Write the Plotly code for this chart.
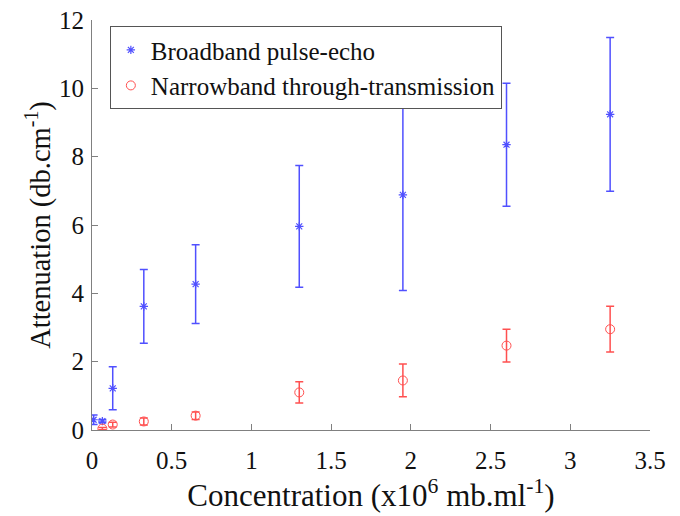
import plotly.graph_objects as go

# Broadband pulse-echo
bb_x = [0.01, 0.065, 0.13, 0.325, 0.65, 1.3, 1.95, 2.6, 3.25]
bb_y = [0.30, 0.26, 1.22, 3.62, 4.27, 5.96, 6.88, 8.35, 9.24]
bb_err = [0.14, 0.05, 0.63, 1.08, 1.15, 1.78, 2.80, 1.80, 2.25]

# Narrowband through-transmission
nb_x = [0.065, 0.13, 0.325, 0.65, 1.3, 1.95, 2.6, 3.25]
nb_y = [0.04, 0.16, 0.25, 0.42, 1.10, 1.45, 2.47, 2.95]
nb_err = [0.03, 0.07, 0.10, 0.11, 0.31, 0.48, 0.48, 0.67]

x_ticks = [0, 0.5, 1, 1.5, 2, 2.5, 3, 3.5]
y_ticks = [0, 2, 4, 6, 8, 10, 12]

blue = "#5050ff"
red = "#ff5050"
font = "Liberation Serif, Times New Roman, serif"

fig = go.Figure()

fig.add_trace(go.Scatter(
    x=bb_x, y=bb_y, mode="markers", name="Broadband pulse-echo",
    marker=dict(symbol="asterisk-open", size=7, color=blue, line=dict(color=blue, width=1.2)),
    error_y=dict(type="data", array=bb_err, color=blue, thickness=1.5, width=4),
))
fig.add_trace(go.Scatter(
    x=nb_x, y=nb_y, mode="markers", name="Narrowband through-transmission",
    marker=dict(symbol="circle-open", size=9, color=red, line=dict(color=red, width=1)),
    error_y=dict(type="data", array=nb_err, color=red, thickness=1.5, width=4),
))

fig.update_layout(
    width=680, height=516,
    margin=dict(l=92, r=30, t=20, b=86),
    paper_bgcolor="white", plot_bgcolor="white",
    font=dict(family=font, size=25, color="#111"),
    legend=dict(
        x=0.032, y=0.985, xanchor="left", yanchor="top",
        bordercolor="#555", borderwidth=1, bgcolor="white",
        font=dict(size=25), tracegroupgap=0, itemwidth=30,
    ),
    xaxis=dict(
        range=[0, 3.5], tickvals=x_ticks, ticktext=[f"{v:g}" for v in x_ticks],
        ticks="inside", ticklen=6, tickcolor="#808080",
        showline=True, linecolor="#808080", linewidth=1,
        showgrid=False, zeroline=False, automargin=False,
        ticklabelstandoff=8,
        title=dict(text="Concentration (x10<sup>6</sup> mb.ml<sup>-1</sup>)", font=dict(size=31), standoff=10),
    ),
    yaxis=dict(
        range=[0, 12], tickvals=y_ticks,
        ticks="inside", ticklen=6, tickcolor="#808080",
        showline=True, linecolor="#808080", linewidth=1,
        showgrid=False, zeroline=False, automargin=False,
        ticklabelstandoff=2,
        title=dict(text="Attenuation (db.cm<sup>-1</sup>)", font=dict(size=28.5), standoff=0),
    ),
)

# page has a default body margin; drop it so the figure sits at the window corner
fig.write_html("out.html", config={"displayModeBar": False},
               post_script="document.body.style.margin='0';")
